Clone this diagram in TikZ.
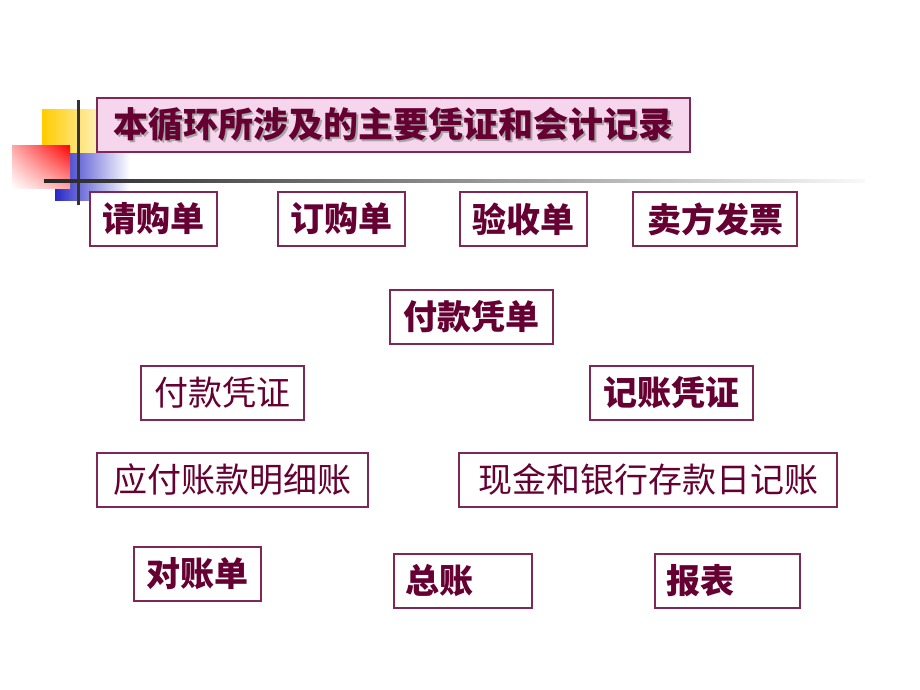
\documentclass[tikz,border=0pt]{standalone}
\usepackage{fontspec}
\newfontfamily\cjk{Noto Sans CJK SC}
\usepackage{tikz}
\usetikzlibrary{positioning,shadings}

\definecolor{maroon}{RGB}{102,0,51}
\definecolor{frame}{RGB}{128,40,85}
\definecolor{pinkbg}{RGB}{246,214,236}
\definecolor{gold}{RGB}{255,204,0}
\definecolor{deepblue}{RGB}{40,40,200}

% text with a grey drop shadow
\newcommand\shadowed[1]{\makebox[0pt][l]{\hspace{2pt}\raisebox{-2pt}{\color{gray!70}#1}}#1}

\begin{document}
\begin{tikzpicture}[
    x=1pt, y=-1pt,
    doc/.style={
        rectangle,
        draw=frame,
        line width=1.3pt,
        fill=white,
        text=maroon,
        minimum width=#1,
        minimum height=54pt,
        inner sep=0pt,
        font=\cjk\fontsize{34}{38}\selectfont
    },
    strong/.style={font=\cjk\bfseries\fontsize{34}{38}\selectfont},
    leftdoc/.style={doc=0pt, text width=#1, align=left, inner xsep=11pt},
    headline/.style={
        rectangle,
        draw=frame,
        line width=1.3pt,
        fill=pinkbg,
        text=maroon,
        minimum width=593pt,
        minimum height=54pt,
        inner sep=0pt,
        font=\cjk\bfseries\fontsize{35}{40}\selectfont
    }
]
\useasboundingbox (0,0) rectangle (920,690);

% corner ornament
\shade[left color=gold, right color=gold!30] (42,110) rectangle (97,152);
\shade[left color=deepblue, right color=white] (55,153) rectangle (130,200);
\shade[upper right=red, upper left=red!35, lower right=red!35, lower left=white]
  (12,145) rectangle (70,188);
\fill[black!80] (76.5,100) rectangle (79.5,205);
\shade[left color=black!85, right color=gray!5] (44,179.5) rectangle (865,182.5);

% heading
\node[headline] (heading) at (393.5,125) {\shadowed{本循环所涉及的主要凭证和会计记录}};

% source documents
\node[doc=127pt, strong] (qinggou) at (153.5,219) {请购单};
\node[doc=127pt, strong] (dinggou) at (341.5,219) {订购单};
\node[doc=127pt, strong] (yanshou) at (523.5,219) {验收单};
\node[doc=164pt, strong] (fapiao)  at (715,219)   {卖方发票};

\node[doc=163pt, strong] (fukuandan) at (471.5,317) {付款凭单};

% vouchers
\node[doc=163pt]         (fukuanpz)  at (222.5,393) {付款凭证};
\node[doc=163pt, strong] (jizhangpz) at (671.5,393) {记账凭证};

% journals and ledgers
\node[doc=271pt] (yingfu)    at (232.5,480) {应付账款明细账};
\node[doc=378pt] (rijizhang) at (648,480)   {现金和银行存款日记账};

\node[doc=127pt, strong] (duizhang) at (197.5,574) {对账单};
% left-set labels in wider boxes
\node[leftdoc=116pt, strong] (zongzhang) at (463,581)   {总账};
\node[leftdoc=123pt, strong] (baobiao)   at (727.5,581) {报表};

\end{tikzpicture}
\end{document}
